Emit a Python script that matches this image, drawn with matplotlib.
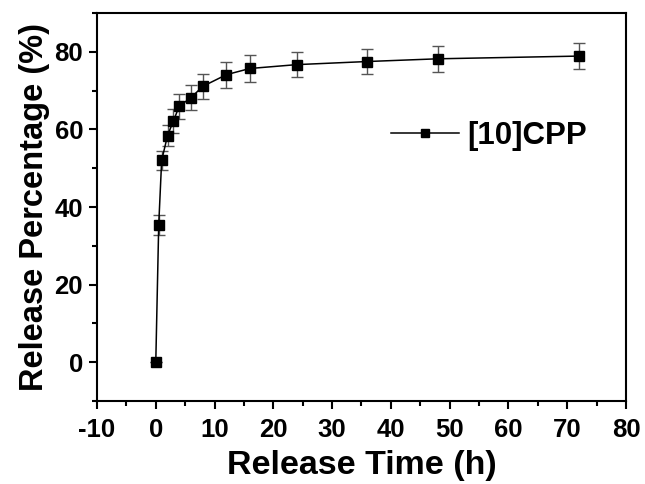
import numpy as np
import matplotlib
matplotlib.use('Agg')
import matplotlib.pyplot as plt
from matplotlib.ticker import MultipleLocator

# Release data
t_Time = [0, 0.5, 1, 2, 3, 4, 6, 8, 12, 16, 24, 36, 48, 72]
t_Release = [0, 35.4, 52.0, 58.4, 62.2, 66.0, 68.2, 71.1, 74.1, 75.7, 76.7, 77.5, 78.2, 78.9]
t_Err = [0, 2.6, 2.5, 2.8, 3.0, 3.2, 3.3, 3.3, 3.4, 3.4, 3.3, 3.3, 3.3, 3.3]
t_Label = '[10]CPP'

plt.rcParams['font.family'] = ['Liberation Sans', 'DejaVu Sans']
plt.rcParams['font.weight'] = 'bold'
plt.rcParams['axes.unicode_minus'] = False

fig = plt.figure(figsize=(6.45, 4.84), dpi=100)
ax = fig.add_axes([0.1504, 0.1715, 0.8201, 0.8016])

ax.errorbar(t_Time, t_Release, yerr=t_Err, fmt='none', ecolor='#555555',
            elinewidth=1, capsize=4, capthick=1, zorder=2)
ax.plot(t_Time, t_Release, '-s', color='black', lw=1.1, markersize=7,
        label=t_Label, zorder=3)

ax.set_xlim(-10, 80)
ax.set_ylim(-10, 90)
ax.xaxis.set_major_locator(MultipleLocator(10))
ax.xaxis.set_minor_locator(MultipleLocator(5))
ax.yaxis.set_minor_locator(MultipleLocator(10))
ax.set_yticks([0, 20, 40, 60, 80])

for t_Spine in ax.spines.values():
    t_Spine.set_linewidth(1.5)
ax.tick_params(which='major', direction='out', length=6, width=1.5, labelsize=18.5, pad=4)
ax.tick_params(axis='x', which='major', pad=6)
ax.tick_params(which='minor', direction='out', length=3.5, width=1.5)
for t_Lbl in ax.get_xticklabels() + ax.get_yticklabels():
    t_Lbl.set_fontweight('bold')

ax.set_xlabel('Release Time (h)', fontsize=24.5, fontweight='bold', labelpad=6)
ax.set_ylabel('Release Percentage (%)', fontsize=23.5, fontweight='bold', labelpad=3)

t_Leg = ax.legend(loc='center left', bbox_to_anchor=(0.555, 0.683), frameon=False,
                  fontsize=22.5, handlelength=2.2, handletextpad=0.25,
                  borderaxespad=0, borderpad=0, markerscale=0.9)
for t_Txt in t_Leg.get_texts():
    t_Txt.set_fontweight('bold')

fig.savefig('out.png', dpi=100)
